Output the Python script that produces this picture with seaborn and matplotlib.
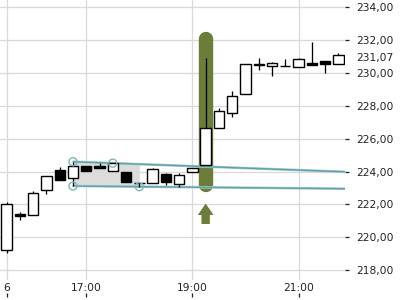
import numpy as np
import pandas as pd
import matplotlib
matplotlib.use("Agg")
import matplotlib.pyplot as plt
import matplotlib.transforms as mtransforms
from matplotlib.patches import FancyArrow
from matplotlib.ticker import FuncFormatter
import seaborn as sns

# ---- data (15-minute candles, index 0..25) ----
opens  = [219.20, 221.42, 221.35, 222.86, 224.08, 223.59, 224.34, 224.34, 224.02, 223.98,
          223.33, 223.29, 223.85, 223.23, 223.96, 224.38, 226.64, 227.55, 228.70, 230.57,
          230.41, 230.43, 230.35, 230.61, 230.73, 230.55]
highs  = [222.17, 221.52, 222.82, 223.71, 224.26, 224.60, 224.34, 224.50, 224.51, 223.98,
          223.33, 224.24, 223.90, 223.93, 224.20, 230.90, 227.85, 228.90, 230.57, 230.90,
          230.65, 230.84, 230.93, 231.90, 230.73, 231.24]
lows   = [219.03, 221.05, 221.35, 222.65, 223.47, 223.12, 224.06, 224.20, 224.02, 223.37,
          223.08, 223.29, 223.17, 223.04, 223.96, 224.38, 226.64, 227.34, 228.70, 230.20,
          229.82, 230.43, 230.35, 230.47, 230.02, 230.55]
closes = [222.03, 221.28, 222.68, 223.71, 223.47, 224.34, 224.06, 224.20, 224.50, 223.37,
          223.31, 224.14, 223.39, 223.78, 224.20, 226.64, 227.71, 228.58, 230.57, 230.47,
          230.59, 230.45, 230.85, 230.47, 230.53, 231.07]

tick_positions = [0, 6, 14, 22]
tick_labels = ["6", "17:00", "19:00", "21:00"]
y_ticks = [218, 220, 222, 224, 226, 228, 230, 232, 234]

upper_anchor_idx = [5, 8]
upper_anchor_val = [224.60, 224.51]
lower_anchor_idx = [5, 10]
lower_anchor_val = [223.12, 223.08]

signal_idx = 15
signal_range = [223.20, 232.05]
arrow_base = 220.81
arrow_len = 1.24
last_price = 231.07

# ---- style ----
sns.set_theme(style="whitegrid")
plt.rcParams['font.family'] = ['DejaVu Sans']

OLIVE = '#6b7d38'
TEAL = '#5fa3a5'
TEXT = '#222222'
PX = 72.0 / 100.0  # points per pixel

fig = plt.figure(figsize=(4, 3), dpi=100)
ax = fig.add_axes([0, 20 / 300, 345 / 400, 280 / 300])
ax.set_facecolor('white')

df = pd.DataFrame({"idx": np.arange(len(opens)), "open": opens, "high": highs,
                   "low": lows, "close": closes})
df["up"] = df["close"] >= df["open"]

xmin, xmax = -0.5, len(opens) - 0.5
ax.set_xlim(xmin, xmax)
ax.set_ylim(217.40, 234.44)

# grid
ax.set_xticks(tick_positions)
ax.set_xticklabels(tick_labels)
ax.set_yticks(y_ticks)
ax.grid(True, color='#d9d9d9', linewidth=1.0 * PX * 1.3)
for s in ax.spines.values():
    s.set_visible(False)

# channel (lines through anchor points, extended to the right edge)
ux = np.array(upper_anchor_idx, float); uy = np.array(upper_anchor_val)
lx = np.array(lower_anchor_idx, float); ly = np.array(lower_anchor_val)
us = (uy[1] - uy[0]) / (ux[1] - ux[0])
ls = (ly[1] - ly[0]) / (lx[1] - lx[0])
x_start = ux[0]
xs_line = np.array([x_start, xmax])
fx = np.linspace(ux[0], lx[1], 50)
ax.fill_between(fx, uy[0] + us * (fx - ux[0]), ly[0] + ls * (fx - lx[0]),
                color='#dcdcdc', zorder=1.5, linewidth=0)
line_df = pd.DataFrame({
    "x": np.concatenate([xs_line, xs_line]),
    "y": np.concatenate([uy[0] + us * (xs_line - ux[0]), ly[0] + ls * (xs_line - lx[0])]),
    "which": ["upper", "upper", "lower", "lower"],
})
for w in ["upper", "lower"]:
    d = line_df[line_df["which"] == w]
    ax.plot(d["x"], d["y"], color='#a9d0d0', lw=2.6 * PX, zorder=2.4, solid_capstyle='butt')
    sns.lineplot(data=d, x="x", y="y", ax=ax, color=TEAL, lw=1.1 * PX * 1.3,
                 zorder=2.5, legend=False)

# signal highlight and arrow
ax.plot([signal_idx, signal_idx], signal_range, color=OLIVE, lw=14.4 * PX,
        solid_capstyle='round', zorder=2.2)
ax.add_patch(FancyArrow(signal_idx, arrow_base, 0, arrow_len, width=0.63,
                        head_width=1.18, head_length=0.69, length_includes_head=True,
                        color=OLIVE, lw=0, zorder=3))

# candles
ax.vlines(df["idx"], df["low"], df["high"], color='black', lw=1.0 * PX * 1.3, zorder=3)
body = (df["close"] - df["open"]).to_numpy()
ax.bar(df["idx"], body, bottom=df["open"], width=0.78,
       color=np.where(df["up"], 'white', 'black'), edgecolor='black',
       linewidth=1.0 * PX * 1.4, zorder=4)

# anchor circles
anchors = pd.DataFrame({"x": list(upper_anchor_idx) + list(lower_anchor_idx),
                        "y": list(upper_anchor_val) + list(lower_anchor_val)})
sns.scatterplot(data=anchors, x="x", y="y", ax=ax, s=(8 * PX) ** 2, marker='o',
                facecolor='none', edgecolor='#7fb7b8', linewidth=1.0, zorder=5, legend=False)

ax.set_xlabel("")
ax.set_ylabel("")

# axes ticks
fmt = FuncFormatter(lambda v, p: f"{v:.2f}".replace('.', ','))
ax.yaxis.set_major_formatter(fmt)
ax.yaxis.tick_right()
ax.tick_params(axis='y', which='both', right=True, left=False, length=3.6 * PX,
               width=1.0 * PX * 1.3, color=TEXT, pad=7.4 * PX * 1.0 + 0.0,
               labelsize=7.7, labelcolor=TEXT)
ax.tick_params(axis='x', which='both', bottom=True, length=0, pad=2.2,
               labelsize=7.7, labelcolor=TEXT)

sec = ax.secondary_xaxis(-13 / 280)
sec.set_xticks(tick_positions)
sec.set_xticklabels([])
sec.tick_params(axis='x', direction='out', length=4 * PX, width=1.0 * PX * 1.3, color=TEXT)
for s in sec.spines.values():
    s.set_visible(False)

# last price label
trans = mtransforms.blended_transform_factory(ax.transAxes, ax.transData)
ax.annotate(fmt(last_price, None), xy=(1, last_price), xycoords=trans,
            xytext=(11 * PX, -2.5 * PX), textcoords='offset points',
            ha='left', va='center', fontsize=7.7, color=TEXT, annotation_clip=False)

fig.savefig("out.png", dpi=100, facecolor='white')
